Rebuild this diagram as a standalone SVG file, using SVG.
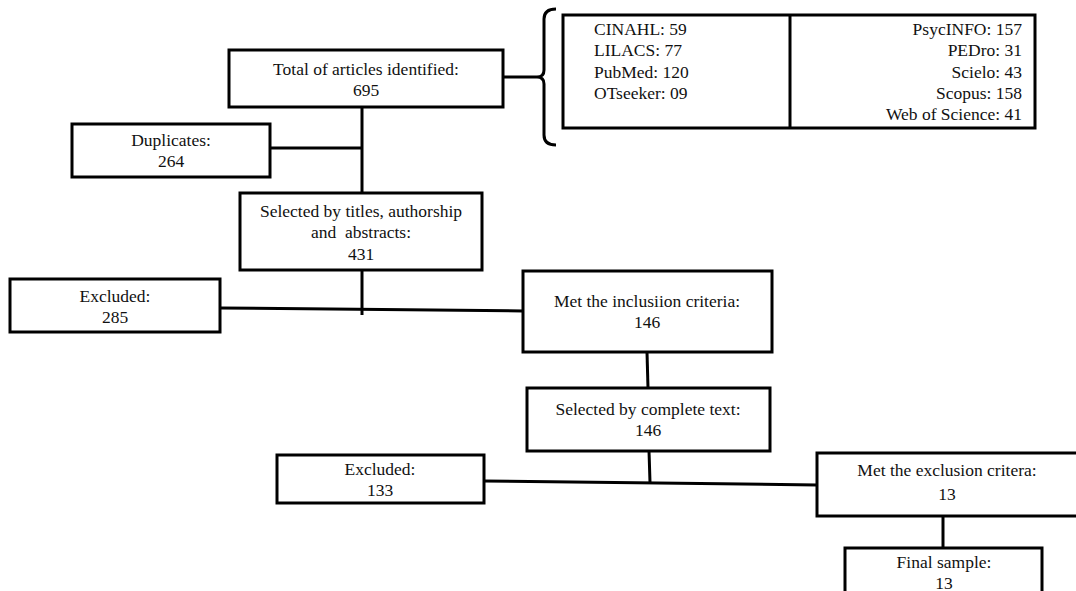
<svg xmlns="http://www.w3.org/2000/svg" width="1076" height="591" viewBox="0 0 1076 591">
<style>
  .box { fill: #fff; stroke: #000; stroke-width: 3; }
  .ln { fill: none; stroke: #000; stroke-width: 3; }
  text { font-family: "Liberation Serif", "Times New Roman", serif; font-size: 17.5px; fill: #111; white-space: pre; }
  .c { text-anchor: middle; }
  .r { text-anchor: end; }
</style>
<rect width="1076" height="591" fill="#fff"/>
<g id="connectors">
  <path class="ln" d="M503 77 L537 77"/>
  <path class="ln" d="M556 9 Q544 9 544 19 L544 70 Q544 77 537 77 Q544 77 544 84 L544 135 Q544 145 556 145"/>
  <path class="ln" d="M362 107 L362 193"/>
  <path class="ln" d="M270 148 L362 148"/>
  <path class="ln" d="M362 270 L362 315"/>
  <path class="ln" d="M220 308 L523 311"/>
  <path class="ln" d="M647 352 L648 388"/>
  <path class="ln" d="M649 451 L650 482"/>
  <path class="ln" d="M484 481 L817 485"/>
  <path class="ln" d="M943 516 L943 548"/>
</g>
<g id="total">
  <rect class="box" x="229" y="50" width="274" height="57"/>
  <text class="c" x="366" y="75">Total of articles identified:</text>
  <text class="c" x="366" y="96">695</text>
</g>
<g id="sources">
  <rect class="box" x="563" y="15" width="472" height="113"/>
  <line class="ln" x1="790" y1="15" x2="790" y2="128"/>
  <text x="594" y="35">CINAHL: 59</text>
  <text x="594" y="56">LILACS: 77</text>
  <text x="594" y="77.5">PubMed: 120</text>
  <text x="594" y="99">OTseeker: 09</text>
  <text class="r" x="1022" y="35">PsycINFO: 157</text>
  <text class="r" x="1022" y="56">PEDro: 31</text>
  <text class="r" x="1022" y="77.5">Scielo: 43</text>
  <text class="r" x="1022" y="99">Scopus: 158</text>
  <text class="r" x="1022" y="120">Web of Science: 41</text>
</g>
<g id="duplicates">
  <rect class="box" x="72" y="124" width="198" height="53"/>
  <text class="c" x="171" y="146">Duplicates:</text>
  <text class="c" x="171" y="167">264</text>
</g>
<g id="selected1">
  <rect class="box" x="240" y="193" width="242" height="77"/>
  <text class="c" x="361" y="217">Selected by titles, authorship</text>
  <text class="c" x="361" y="238">and  abstracts:</text>
  <text class="c" x="361" y="260">431</text>
</g>
<g id="excluded1">
  <rect class="box" x="10" y="279" width="210" height="53"/>
  <text class="c" x="115" y="302">Excluded:</text>
  <text class="c" x="115" y="323">285</text>
</g>
<g id="inclusion">
  <rect class="box" x="523" y="271" width="249" height="81"/>
  <text class="c" x="647" y="307">Met the inclusiion criteria:</text>
  <text class="c" x="647" y="328">146</text>
</g>
<g id="selected2">
  <rect class="box" x="527" y="388" width="243" height="63"/>
  <text class="c" x="648" y="415">Selected by complete text:</text>
  <text class="c" x="648" y="436">146</text>
</g>
<g id="excluded2">
  <rect class="box" x="277" y="455" width="207" height="48"/>
  <text class="c" x="380" y="475">Excluded:</text>
  <text class="c" x="380" y="496">133</text>
</g>
<g id="exclusion">
  <rect class="box" x="817" y="453" width="265" height="63"/>
  <text class="c" x="947" y="476">Met the exclusion critera:</text>
  <text class="c" x="947" y="500">13</text>
</g>
<g id="final">
  <rect class="box" x="845" y="548" width="197" height="60"/>
  <text class="c" x="944" y="568">Final sample:</text>
  <text class="c" x="944" y="589">13</text>
</g>
</svg>
